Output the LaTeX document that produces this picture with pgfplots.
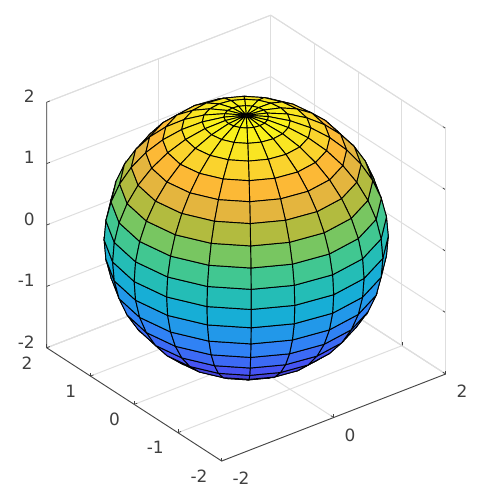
\documentclass[border=0pt]{standalone}
\usepackage{pgfplots}
\pgfplotsset{compat=1.18}
\usepackage{fontspec}
\setmainfont{DejaVu Sans}
\definecolor{tickdark}{gray}{0.25}
\definecolor{gridlt}{gray}{0.87}
\pgfplotsset{colormap={parula}{
rgb=(0.2422,0.1504,0.6603)
rgb=(0.2558,0.2109,0.7645)
rgb=(0.2693,0.2714,0.8686)
rgb=(0.2760,0.3330,0.9580)
rgb=(0.2408,0.4051,0.9621)
rgb=(0.2044,0.4772,0.9663)
rgb=(0.1680,0.5450,0.9550)
rgb=(0.1295,0.6030,0.9105)
rgb=(0.0911,0.6610,0.8655)
rgb=(0.0906,0.7080,0.8040)
rgb=(0.1425,0.7396,0.7157)
rgb=(0.1950,0.7780,0.6280)
rgb=(0.3000,0.7825,0.5200)
rgb=(0.4580,0.7800,0.3900)
rgb=(0.6150,0.7480,0.2730)
rgb=(0.7680,0.7240,0.2240)
rgb=(0.9100,0.7100,0.2460)
rgb=(0.9900,0.7190,0.2130)
rgb=(0.9820,0.8200,0.1830)
rgb=(0.9780,0.9050,0.1300)
rgb=(0.9769,0.9839,0.0805)
}}
\begin{document}
\begin{tikzpicture}
\useasboundingbox (-184.65pt,-190.43pt) rectangle (176.1pt,178.58pt);
\begin{axis}[
  at={(0pt,0pt)}, anchor=origin,
  x={(42pt,16.31pt)}, y={(-32.81pt,21.23pt)}, z={(0pt,46.05pt)},
  view={-37.5}{30},
  xmin=-2,xmax=2,ymin=-2,ymax=2,zmin=-2,zmax=2,
  point meta min=-2, point meta max=2,
  xtick={-2,0,2}, ytick={-2,-1,0,1,2}, ztick={-2,-1,0,1,2},
  xticklabels={{-2},{0},{2}},
  yticklabels={{-2},{-1},{0},{1},{2}},
  zticklabels={{-2},{-1},{0},{1},{2}},
  xtick pos=lower, ytick pos=lower, ztick pos=left,
  grid=major,
  grid style={gridlt,line width=0.75pt},
  axis line style={gridlt,line width=0.75pt},
  tick style={tickdark,line width=0.5pt},
  major tick length=2.5pt,
  tick label style={font=\fontsize{12.7}{14}\selectfont,text=tickdark,inner sep=0pt},
  xticklabel style={anchor=west,xshift=8pt,yshift=-13.2pt},
  yticklabel style={anchor=east,xshift=-10.5pt,yshift=-11.25pt},
  zticklabel style={anchor=east,xshift=-8.8pt,yshift=4.5pt},
  clip=false,
  colormap name=parula,
]
\addplot3[surf,shader=flat corner,draw=black,line width=0.7pt,z buffer=sort,mesh/rows=21,mesh/cols=21] coordinates {
(0,0,-2) (0,0,-2) (0,0,-2) (0,0,-2) (0,0,-2) (0,0,-2) (0,0,-2) (0,0,-2) (0,0,-2) (0,0,-2) (0,0,-2) (0,0,-2) (0,0,-2) (0,0,-2) (0,0,-2) (0,0,-2) (0,0,-2) (0,0,-2) (0,0,-2) (0,0,-2) (0,0,-2)

(-.313,0,-1.975) (-.298,-.097,-1.975) (-.253,-.184,-1.975) (-.184,-.253,-1.975) (-.097,-.298,-1.975) (0,-.313,-1.975) (.097,-.298,-1.975) (.184,-.253,-1.975) (.253,-.184,-1.975) (.298,-.097,-1.975) (.313,0,-1.975) (.298,.097,-1.975) (.253,.184,-1.975) (.184,.253,-1.975) (.097,.298,-1.975) (0,.313,-1.975) (-.097,.298,-1.975) (-.184,.253,-1.975) (-.253,.184,-1.975) (-.298,.097,-1.975) (-.313,0,-1.975)

(-.618,0,-1.902) (-.588,-.191,-1.902) (-.5,-.363,-1.902) (-.363,-.5,-1.902) (-.191,-.588,-1.902) (0,-.618,-1.902) (.191,-.588,-1.902) (.363,-.5,-1.902) (.5,-.363,-1.902) (.588,-.191,-1.902) (.618,0,-1.902) (.588,.191,-1.902) (.5,.363,-1.902) (.363,.5,-1.902) (.191,.588,-1.902) (0,.618,-1.902) (-.191,.588,-1.902) (-.363,.5,-1.902) (-.5,.363,-1.902) (-.588,.191,-1.902) (-.618,0,-1.902)

(-.908,0,-1.782) (-.864,-.281,-1.782) (-.735,-.534,-1.782) (-.534,-.735,-1.782) (-.281,-.864,-1.782) (0,-.908,-1.782) (.281,-.864,-1.782) (.534,-.735,-1.782) (.735,-.534,-1.782) (.864,-.281,-1.782) (.908,0,-1.782) (.864,.281,-1.782) (.735,.534,-1.782) (.534,.735,-1.782) (.281,.864,-1.782) (0,.908,-1.782) (-.281,.864,-1.782) (-.534,.735,-1.782) (-.735,.534,-1.782) (-.864,.281,-1.782) (-.908,0,-1.782)

(-1.176,0,-1.618) (-1.118,-.363,-1.618) (-.951,-.691,-1.618) (-.691,-.951,-1.618) (-.363,-1.118,-1.618) (0,-1.176,-1.618) (.363,-1.118,-1.618) (.691,-.951,-1.618) (.951,-.691,-1.618) (1.118,-.363,-1.618) (1.176,0,-1.618) (1.118,.363,-1.618) (.951,.691,-1.618) (.691,.951,-1.618) (.363,1.118,-1.618) (0,1.176,-1.618) (-.363,1.118,-1.618) (-.691,.951,-1.618) (-.951,.691,-1.618) (-1.118,.363,-1.618) (-1.176,0,-1.618)

(-1.414,0,-1.414) (-1.345,-.437,-1.414) (-1.144,-.831,-1.414) (-.831,-1.144,-1.414) (-.437,-1.345,-1.414) (0,-1.414,-1.414) (.437,-1.345,-1.414) (.831,-1.144,-1.414) (1.144,-.831,-1.414) (1.345,-.437,-1.414) (1.414,0,-1.414) (1.345,.437,-1.414) (1.144,.831,-1.414) (.831,1.144,-1.414) (.437,1.345,-1.414) (0,1.414,-1.414) (-.437,1.345,-1.414) (-.831,1.144,-1.414) (-1.144,.831,-1.414) (-1.345,.437,-1.414) (-1.414,0,-1.414)

(-1.618,0,-1.176) (-1.539,-.5,-1.176) (-1.309,-.951,-1.176) (-.951,-1.309,-1.176) (-.5,-1.539,-1.176) (0,-1.618,-1.176) (.5,-1.539,-1.176) (.951,-1.309,-1.176) (1.309,-.951,-1.176) (1.539,-.5,-1.176) (1.618,0,-1.176) (1.539,.5,-1.176) (1.309,.951,-1.176) (.951,1.309,-1.176) (.5,1.539,-1.176) (0,1.618,-1.176) (-.5,1.539,-1.176) (-.951,1.309,-1.176) (-1.309,.951,-1.176) (-1.539,.5,-1.176) (-1.618,0,-1.176)

(-1.782,0,-.908) (-1.695,-.551,-.908) (-1.442,-1.047,-.908) (-1.047,-1.442,-.908) (-.551,-1.695,-.908) (0,-1.782,-.908) (.551,-1.695,-.908) (1.047,-1.442,-.908) (1.442,-1.047,-.908) (1.695,-.551,-.908) (1.782,0,-.908) (1.695,.551,-.908) (1.442,1.047,-.908) (1.047,1.442,-.908) (.551,1.695,-.908) (0,1.782,-.908) (-.551,1.695,-.908) (-1.047,1.442,-.908) (-1.442,1.047,-.908) (-1.695,.551,-.908) (-1.782,0,-.908)

(-1.902,0,-.618) (-1.809,-.588,-.618) (-1.539,-1.118,-.618) (-1.118,-1.539,-.618) (-.588,-1.809,-.618) (0,-1.902,-.618) (.588,-1.809,-.618) (1.118,-1.539,-.618) (1.539,-1.118,-.618) (1.809,-.588,-.618) (1.902,0,-.618) (1.809,.588,-.618) (1.539,1.118,-.618) (1.118,1.539,-.618) (.588,1.809,-.618) (0,1.902,-.618) (-.588,1.809,-.618) (-1.118,1.539,-.618) (-1.539,1.118,-.618) (-1.809,.588,-.618) (-1.902,0,-.618)

(-1.975,0,-.313) (-1.879,-.61,-.313) (-1.598,-1.161,-.313) (-1.161,-1.598,-.313) (-.61,-1.879,-.313) (0,-1.975,-.313) (.61,-1.879,-.313) (1.161,-1.598,-.313) (1.598,-1.161,-.313) (1.879,-.61,-.313) (1.975,0,-.313) (1.879,.61,-.313) (1.598,1.161,-.313) (1.161,1.598,-.313) (.61,1.879,-.313) (0,1.975,-.313) (-.61,1.879,-.313) (-1.161,1.598,-.313) (-1.598,1.161,-.313) (-1.879,.61,-.313) (-1.975,0,-.313)

(-2,0,0) (-1.902,-.618,0) (-1.618,-1.176,0) (-1.176,-1.618,0) (-.618,-1.902,0) (0,-2,0) (.618,-1.902,0) (1.176,-1.618,0) (1.618,-1.176,0) (1.902,-.618,0) (2,0,0) (1.902,.618,0) (1.618,1.176,0) (1.176,1.618,0) (.618,1.902,0) (0,2,0) (-.618,1.902,0) (-1.176,1.618,0) (-1.618,1.176,0) (-1.902,.618,0) (-2,0,0)

(-1.975,0,.313) (-1.879,-.61,.313) (-1.598,-1.161,.313) (-1.161,-1.598,.313) (-.61,-1.879,.313) (0,-1.975,.313) (.61,-1.879,.313) (1.161,-1.598,.313) (1.598,-1.161,.313) (1.879,-.61,.313) (1.975,0,.313) (1.879,.61,.313) (1.598,1.161,.313) (1.161,1.598,.313) (.61,1.879,.313) (0,1.975,.313) (-.61,1.879,.313) (-1.161,1.598,.313) (-1.598,1.161,.313) (-1.879,.61,.313) (-1.975,0,.313)

(-1.902,0,.618) (-1.809,-.588,.618) (-1.539,-1.118,.618) (-1.118,-1.539,.618) (-.588,-1.809,.618) (0,-1.902,.618) (.588,-1.809,.618) (1.118,-1.539,.618) (1.539,-1.118,.618) (1.809,-.588,.618) (1.902,0,.618) (1.809,.588,.618) (1.539,1.118,.618) (1.118,1.539,.618) (.588,1.809,.618) (0,1.902,.618) (-.588,1.809,.618) (-1.118,1.539,.618) (-1.539,1.118,.618) (-1.809,.588,.618) (-1.902,0,.618)

(-1.782,0,.908) (-1.695,-.551,.908) (-1.442,-1.047,.908) (-1.047,-1.442,.908) (-.551,-1.695,.908) (0,-1.782,.908) (.551,-1.695,.908) (1.047,-1.442,.908) (1.442,-1.047,.908) (1.695,-.551,.908) (1.782,0,.908) (1.695,.551,.908) (1.442,1.047,.908) (1.047,1.442,.908) (.551,1.695,.908) (0,1.782,.908) (-.551,1.695,.908) (-1.047,1.442,.908) (-1.442,1.047,.908) (-1.695,.551,.908) (-1.782,0,.908)

(-1.618,0,1.176) (-1.539,-.5,1.176) (-1.309,-.951,1.176) (-.951,-1.309,1.176) (-.5,-1.539,1.176) (0,-1.618,1.176) (.5,-1.539,1.176) (.951,-1.309,1.176) (1.309,-.951,1.176) (1.539,-.5,1.176) (1.618,0,1.176) (1.539,.5,1.176) (1.309,.951,1.176) (.951,1.309,1.176) (.5,1.539,1.176) (0,1.618,1.176) (-.5,1.539,1.176) (-.951,1.309,1.176) (-1.309,.951,1.176) (-1.539,.5,1.176) (-1.618,0,1.176)

(-1.414,0,1.414) (-1.345,-.437,1.414) (-1.144,-.831,1.414) (-.831,-1.144,1.414) (-.437,-1.345,1.414) (0,-1.414,1.414) (.437,-1.345,1.414) (.831,-1.144,1.414) (1.144,-.831,1.414) (1.345,-.437,1.414) (1.414,0,1.414) (1.345,.437,1.414) (1.144,.831,1.414) (.831,1.144,1.414) (.437,1.345,1.414) (0,1.414,1.414) (-.437,1.345,1.414) (-.831,1.144,1.414) (-1.144,.831,1.414) (-1.345,.437,1.414) (-1.414,0,1.414)

(-1.176,0,1.618) (-1.118,-.363,1.618) (-.951,-.691,1.618) (-.691,-.951,1.618) (-.363,-1.118,1.618) (0,-1.176,1.618) (.363,-1.118,1.618) (.691,-.951,1.618) (.951,-.691,1.618) (1.118,-.363,1.618) (1.176,0,1.618) (1.118,.363,1.618) (.951,.691,1.618) (.691,.951,1.618) (.363,1.118,1.618) (0,1.176,1.618) (-.363,1.118,1.618) (-.691,.951,1.618) (-.951,.691,1.618) (-1.118,.363,1.618) (-1.176,0,1.618)

(-.908,0,1.782) (-.864,-.281,1.782) (-.735,-.534,1.782) (-.534,-.735,1.782) (-.281,-.864,1.782) (0,-.908,1.782) (.281,-.864,1.782) (.534,-.735,1.782) (.735,-.534,1.782) (.864,-.281,1.782) (.908,0,1.782) (.864,.281,1.782) (.735,.534,1.782) (.534,.735,1.782) (.281,.864,1.782) (0,.908,1.782) (-.281,.864,1.782) (-.534,.735,1.782) (-.735,.534,1.782) (-.864,.281,1.782) (-.908,0,1.782)

(-.618,0,1.902) (-.588,-.191,1.902) (-.5,-.363,1.902) (-.363,-.5,1.902) (-.191,-.588,1.902) (0,-.618,1.902) (.191,-.588,1.902) (.363,-.5,1.902) (.5,-.363,1.902) (.588,-.191,1.902) (.618,0,1.902) (.588,.191,1.902) (.5,.363,1.902) (.363,.5,1.902) (.191,.588,1.902) (0,.618,1.902) (-.191,.588,1.902) (-.363,.5,1.902) (-.5,.363,1.902) (-.588,.191,1.902) (-.618,0,1.902)

(-.313,0,1.975) (-.298,-.097,1.975) (-.253,-.184,1.975) (-.184,-.253,1.975) (-.097,-.298,1.975) (0,-.313,1.975) (.097,-.298,1.975) (.184,-.253,1.975) (.253,-.184,1.975) (.298,-.097,1.975) (.313,0,1.975) (.298,.097,1.975) (.253,.184,1.975) (.184,.253,1.975) (.097,.298,1.975) (0,.313,1.975) (-.097,.298,1.975) (-.184,.253,1.975) (-.253,.184,1.975) (-.298,.097,1.975) (-.313,0,1.975)

(0,0,2) (0,0,2) (0,0,2) (0,0,2) (0,0,2) (0,0,2) (0,0,2) (0,0,2) (0,0,2) (0,0,2) (0,0,2) (0,0,2) (0,0,2) (0,0,2) (0,0,2) (0,0,2) (0,0,2) (0,0,2) (0,0,2) (0,0,2) (0,0,2)
};
\addplot3[tickdark,line width=0.6pt] coordinates {(-2,2,2) (-2,2,-2) (-2,-2,-2) (2,-2,-2)};
\end{axis}
\end{tikzpicture}
\end{document}
